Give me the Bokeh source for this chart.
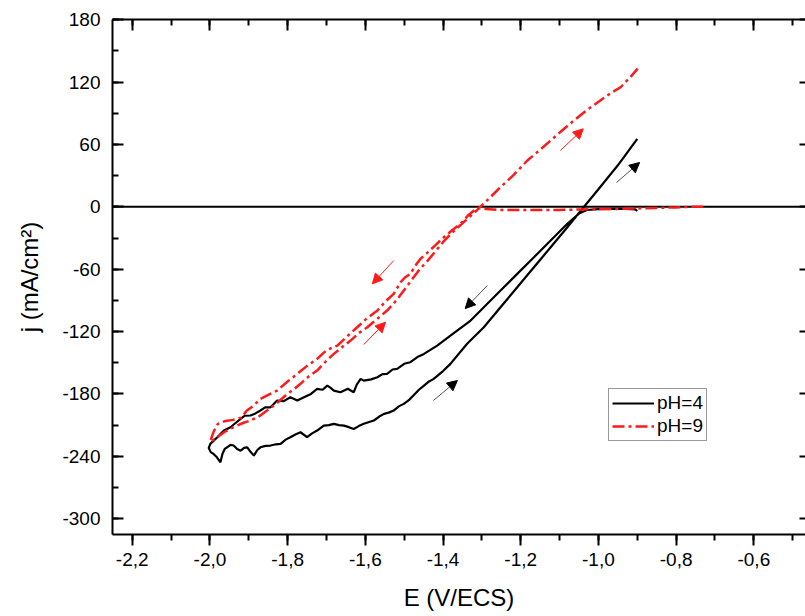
from bokeh.plotting import figure
from bokeh.models import (ColumnDataSource, SingleIntervalTicker, LinearAxis,
                          CustomJSTickFormatter, Span, Arrow, NormalHead,
                          Legend, LegendItem, Range1d)
from bokeh.embed import file_html
from bokeh.resources import INLINE

# ---------------- data ----------------
# pH = 4 : cathodic scan (from -0.9 V towards -2.0 V)
ph4_cath_E = [-0.900, -0.905, -0.930, -0.960, -1.000, -1.030, -1.050, -1.080, -1.123, -1.166,
              -1.209, -1.252, -1.295, -1.329, -1.381, -1.415, -1.449, -1.466, -1.484, -1.500,
              -1.518, -1.530, -1.544, -1.556, -1.569, -1.585, -1.604, -1.612, -1.622, -1.630,
              -1.645, -1.664, -1.681, -1.690, -1.698, -1.710, -1.724, -1.740, -1.758, -1.775,
              -1.793, -1.810, -1.827, -1.844, -1.858, -1.870, -1.884, -1.896, -1.910, -1.921,
              -1.934, -1.947, -1.964, -1.981, -1.999]
ph4_cath_j = [-4.0, -2.5, -2.0, -2.0, -2.2, -3.0, -6.5, -16.3, -32.4, -48.5,
              -64.5, -80.5, -96.6, -109.4, -124.0, -133.5, -141.5, -144.5, -149.5, -151.0,
              -155.9, -156.5, -160.7, -161.0, -164.0, -166.0, -167.2, -165.5, -171.0, -178.4,
              -175.0, -178.4, -176.8, -174.0, -172.0, -176.0, -175.2, -180.0, -183.2, -186.4,
              -183.2, -187.0, -186.4, -192.9, -193.0, -196.0, -199.0, -200.8, -201.0, -204.0,
              -208.0, -212.1, -215.3, -221.7, -228.1]
# pH = 4 : anodic (return) scan
ph4_anod_E = [-2.003, -1.998, -1.990, -1.982, -1.973, -1.968, -1.962, -1.956, -1.947, -1.939,
              -1.930, -1.921, -1.912, -1.904, -1.895, -1.887, -1.878, -1.870, -1.857, -1.844,
              -1.830, -1.818, -1.805, -1.793, -1.780, -1.767, -1.750, -1.737, -1.724, -1.707,
              -1.694, -1.681, -1.668, -1.655, -1.642, -1.630, -1.617, -1.604, -1.590, -1.578,
              -1.565, -1.552, -1.540, -1.527, -1.514, -1.501, -1.488, -1.475, -1.462, -1.449,
              -1.436, -1.424, -1.400, -1.381, -1.338, -1.295, -1.252, -1.209, -1.166, -1.123,
              -1.080, -1.045, -1.000, -0.950, -0.900]
ph4_anod_j = [-232.0, -236.0, -238.0, -241.0, -245.8, -238.0, -233.0, -231.4, -229.0, -229.7,
              -233.0, -234.6, -232.0, -231.4, -236.0, -239.4, -234.0, -231.4, -230.0, -229.7,
              -228.5, -228.1, -224.0, -221.7, -219.0, -216.9, -221.7, -218.0, -215.3, -210.5,
              -210.0, -208.8, -210.0, -210.5, -212.0, -213.7, -211.0, -208.8, -207.0, -205.6,
              -202.0, -199.2, -198.0, -196.0, -192.0, -189.6, -186.0, -181.0, -176.0, -172.0,
              -168.0, -165.5, -158.0, -151.1, -131.8, -115.9, -96.6, -77.4, -58.1, -38.9,
              -19.6, -3.5, 17.0, 40.0, 65.5]

# pH = 9 : cathodic scan (from -0.73 V towards -2.0 V)
ph9_cath_E = [-0.730, -0.760, -0.800, -0.850, -0.900, -0.950, -1.000, -1.050, -1.100, -1.150,
              -1.200, -1.250, -1.290, -1.312, -1.335, -1.355, -1.375, -1.398, -1.420, -1.440,
              -1.458, -1.472, -1.484, -1.498, -1.509, -1.527, -1.548, -1.569, -1.595, -1.621,
              -1.645, -1.672, -1.700, -1.724, -1.750, -1.775, -1.800, -1.827, -1.850, -1.870,
              -1.890, -1.905, -1.920, -1.940, -1.960, -1.980, -1.990, -2.000]
ph9_cath_j = [0.0, 0.0, -0.5, -1.0, -1.5, -2.0, -2.0, -2.5, -3.0, -3.0,
              -3.0, -3.0, -2.0, -1.0, -8.0, -16.3, -22.0, -29.2, -37.0, -44.0,
              -50.0, -57.0, -64.5, -68.0, -72.5, -83.7, -91.0, -99.8, -107.0, -115.9,
              -124.0, -133.5, -138.0, -146.3, -153.0, -160.7, -168.0, -176.8, -181.0, -184.8,
              -192.0, -196.0, -203.0, -205.0, -206.0, -209.0, -216.0, -226.0]
# pH = 9 : anodic (return) scan
ph9_anod_E = [-1.990, -1.981, -1.960, -1.939, -1.915, -1.896, -1.875, -1.853, -1.825, -1.801,
              -1.785, -1.767, -1.745, -1.724, -1.700, -1.681, -1.660, -1.638, -1.615, -1.595,
              -1.570, -1.544, -1.520, -1.501, -1.480, -1.460, -1.440, -1.420, -1.400, -1.380,
              -1.355, -1.330, -1.312, -1.290, -1.252, -1.220, -1.183, -1.150, -1.123, -1.095,
              -1.063, -1.030, -0.995, -0.970, -0.943, -0.920, -0.899]
ph9_anod_j = [-224.0, -221.7, -216.0, -212.0, -208.0, -205.7, -202.0, -196.0, -188.0, -180.0,
              -176.0, -170.3, -163.0, -157.5, -148.0, -141.5, -135.0, -128.7, -121.0, -115.9,
              -108.0, -99.8, -90.0, -80.5, -70.0, -60.0, -52.0, -43.0, -34.0, -26.0,
              -17.5, -9.0, -3.0, 5.0, 19.0, 30.0, 44.6, 55.0, 63.9, 73.0,
              83.1, 93.0, 102.4, 109.0, 115.1, 124.0, 133.0]

# scan-direction arrows (E, j)
arrow_black_E0 = [-0.9535, -1.286, -1.425]
arrow_black_j0 = [23.4, -75.7, -186.4]
arrow_black_E1 = [-0.894, -1.343, -1.363]
arrow_black_j1 = [42.7, -97.9, -167.1]
arrow_red_E0 = [-1.098, -1.527, -1.604]
arrow_red_j0 = [54.2, -51.7, -132.5]
arrow_red_E1 = [-1.039, -1.582, -1.548]
arrow_red_j1 = [75.1, -74.1, -111.0]

series_labels = ["pH=4", "pH=9"]
x_title = "E (V/ECS)"
y_title = "j (mA/cm²)"

assert len(ph4_cath_E) == len(ph4_cath_j)
assert len(ph4_anod_E) == len(ph4_anod_j)
assert len(ph9_cath_E) == len(ph9_cath_j)
assert len(ph9_anod_E) == len(ph9_anod_j)

ph4_E = ph4_cath_E + ph4_anod_E
ph4_j = ph4_cath_j + ph4_anod_j
ph9_E = ph9_cath_E + ph9_anod_E
ph9_j = ph9_cath_j + ph9_anod_j

# ---------------- figure ----------------
FONT = "Liberation Sans"
RED = "#ff1a1a"

p = figure(width=805, height=616,
           x_range=Range1d(-2.2508, -0.467), y_range=Range1d(-315.3, 180.3),
           output_backend="svg", toolbar_location=None,
           x_axis_location=None, y_axis_location=None)
p.min_border_left = 112
p.min_border_right = 0
p.min_border_top = 19
p.min_border_bottom = 82
p.outline_line_color = None
p.xgrid.visible = False
p.ygrid.visible = False
p.background_fill_color = "white"
p.border_fill_color = "white"

xfmt = CustomJSTickFormatter(code="return tick.toFixed(1).replace('.', ',');")
yfmt = CustomJSTickFormatter(code="return tick.toFixed(0);")
blank = CustomJSTickFormatter(code="return '';")


def style(ax, tin, tout, mtin, mtout, labels=True, standoff=8, line=True):
    ax.axis_line_width = 2
    ax.axis_line_color = "black" if line else None
    ax.major_tick_line_width = 2
    ax.minor_tick_line_width = 2
    ax.major_tick_line_color = "black"
    ax.minor_tick_line_color = "black"
    ax.major_tick_in = tin
    ax.major_tick_out = tout
    ax.minor_tick_in = mtin
    ax.minor_tick_out = mtout
    if labels:
        ax.major_label_text_font = FONT
        ax.major_label_text_font_size = "19px"
        ax.major_label_text_color = "black"
        ax.major_label_standoff = standoff
    else:
        ax.major_label_text_font_size = "0px"
        ax.major_label_standoff = 0


def title(ax, text, standoff):
    ax.axis_label = text
    ax.axis_label_text_font = FONT
    ax.axis_label_text_font_size = "24px"
    ax.axis_label_text_font_style = "normal"
    ax.axis_label_text_color = "black"
    ax.axis_label_standoff = standoff


bottom = LinearAxis(ticker=SingleIntervalTicker(interval=0.2, num_minor_ticks=2), formatter=xfmt)
style(bottom, 0, 11, 0, 6, standoff=7)
title(bottom, x_title, 15)
top = LinearAxis(ticker=SingleIntervalTicker(interval=0.2, num_minor_ticks=2), formatter=blank)
style(top, 11, 0, 6, 0, labels=False)
left = LinearAxis(ticker=SingleIntervalTicker(interval=60, num_minor_ticks=2), formatter=yfmt)
style(left, 11, 0, 6, 0, standoff=12)
title(left, y_title, 16)
right = LinearAxis(ticker=SingleIntervalTicker(interval=60, num_minor_ticks=2), formatter=blank)
style(right, 6, 0, 0, 0, labels=False, line=False)

p.add_layout(bottom, "below")
p.add_layout(top, "above")
p.add_layout(left, "left")
p.add_layout(right, "right")

# zero line
p.add_layout(Span(location=0, dimension="width", line_color="black", line_width=2, level="underlay"))

r4 = p.line(ph4_E, ph4_j, line_color="black", line_width=2.2)
r9 = p.line(ph9_E, ph9_j, line_color=RED, line_width=2.5, line_dash="12 4 3 4")

# arrows
src_b = ColumnDataSource(dict(x0=arrow_black_E0, y0=arrow_black_j0, x1=arrow_black_E1, y1=arrow_black_j1))
src_r = ColumnDataSource(dict(x0=arrow_red_E0, y0=arrow_red_j0, x1=arrow_red_E1, y1=arrow_red_j1))
p.add_layout(Arrow(end=NormalHead(size=10, fill_color="black", line_color="black", line_width=1),
                   source=src_b, x_start="x0", y_start="y0", x_end="x1", y_end="y1",
                   line_color="#555555", line_width=1))
p.add_layout(Arrow(end=NormalHead(size=10, fill_color=RED, line_color=RED, line_width=1),
                   source=src_r, x_start="x0", y_start="y0", x_end="x1", y_end="y1",
                   line_color=RED, line_width=1))

# legend
legend = Legend(items=[LegendItem(label=series_labels[0], renderers=[r4]),
                       LegendItem(label=series_labels[1], renderers=[r9])],
                location=(496, 93))
legend.border_line_color = "#333333"
legend.border_line_width = 1
legend.background_fill_color = "white"
legend.background_fill_alpha = 1
legend.padding = 3
legend.spacing = 1
legend.margin = 0
legend.glyph_width = 42
legend.glyph_height = 20
legend.label_height = 20
legend.label_standoff = 3
legend.label_text_font = FONT
legend.label_text_font_size = "19px"
legend.label_text_color = "black"
p.add_layout(legend)

open("out.html", "w").write(file_html(p, INLINE))
